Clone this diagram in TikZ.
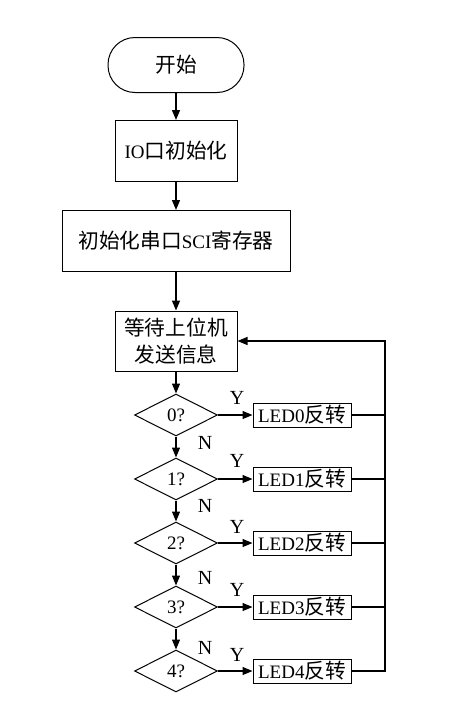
\documentclass[tikz,border=0pt]{standalone}
\usepackage{fontspec}
\setmainfont{Liberation Serif}
\newfontfamily\cjk[Scale=1.09]{Noto Sans CJK SC}
\usetikzlibrary{arrows.meta,shapes.geometric}

\tikzset{
  flow/.style={line width=1.3pt},
  arr/.style={flow, -{Triangle[length=10pt,width=8pt]}},
  box/.style={draw, line width=1pt, rectangle, align=center, inner sep=0pt},
  ledbox/.style={box, minimum width=98pt, minimum height=24pt},
  test/.style={draw, line width=1pt, diamond, aspect=2, inner sep=0pt, minimum width=83pt, minimum height=42pt},
  lbl/.style={font=\fontsize{20}{22}\selectfont}
}

\begin{document}
\begin{tikzpicture}[x=1pt, y=-1pt, font=\fontsize{19}{27}\selectfont]
      \useasboundingbox (0, 0) rectangle (456, 718);

      \node[box, rounded corners=27pt, minimum width=136pt, minimum height=55pt] (start) at (176, 65) {\cjk 开始};
      \node[box, minimum width=122pt, minimum height=61pt] (io) at (176, 151) {IO{\cjk 口初始化}};
      \node[box, minimum width=228pt, minimum height=61pt] (sci) at (176, 241) {{\cjk 初始化串口}SCI{\cjk 寄存器}};
      \node[box, minimum width=122pt, minimum height=60pt] (wait) at (176, 341) {\cjk 等待上位机\\\cjk 发送信息};

      \node[test] (t0) at (176, 415) {0?};
      \node[test] (t1) at (176, 479) {1?};
      \node[test] (t2) at (176, 543) {2?};
      \node[test] (t3) at (176, 607) {3?};
      \node[test] (t4) at (176, 671) {4?};

      \node[ledbox] (led0) at (302, 415) {LED0{\cjk 反转}};
      \node[ledbox] (led1) at (302, 479) {LED1{\cjk 反转}};
      \node[ledbox] (led2) at (302, 543) {LED2{\cjk 反转}};
      \node[ledbox] (led3) at (302, 607) {LED3{\cjk 反转}};
      \node[ledbox] (led4) at (302, 671) {LED4{\cjk 反转}};

      \coordinate (fb) at (385, 341);

      % main line
      \draw[arr] (start) -- (io);
      \draw[arr] (io) -- (sci);
      \draw[arr] (sci) -- (wait);
      \draw[arr] (wait) -- (t0);
      \draw[arr] (t0) -- (t1);
      \draw[arr] (t1) -- (t2);
      \draw[arr] (t2) -- (t3);
      \draw[arr] (t3) -- (t4);

      % yes branches
      \draw[arr] (t0) -- (led0);
      \draw[arr] (t1) -- (led1);
      \draw[arr] (t2) -- (led2);
      \draw[arr] (t3) -- (led3);
      \draw[arr] (t4) -- (led4);

      % back to waiting
      \draw[flow] (led0.east) -- (led0.east -| fb);
      \draw[flow] (led1.east) -- (led1.east -| fb);
      \draw[flow] (led2.east) -- (led2.east -| fb);
      \draw[flow] (led3.east) -- (led3.east -| fb);
      \draw[arr] (led4.east) -- (led4.east -| fb) -- (fb) -- (wait.east);

      \node[lbl] (y0) at (237, 398) {Y};
      \node[lbl] (y1) at (237, 461) {Y};
      \node[lbl] (y2) at (237, 527) {Y};
      \node[lbl] (y3) at (237, 590) {Y};
      \node[lbl] (y4) at (237, 655) {Y};

      \node[lbl] (n0) at (205, 443) {N};
      \node[lbl] (n1) at (205, 506) {N};
      \node[lbl] (n2) at (205, 578) {N};
      \node[lbl] (n3) at (205, 648) {N};
\end{tikzpicture}
\end{document}
